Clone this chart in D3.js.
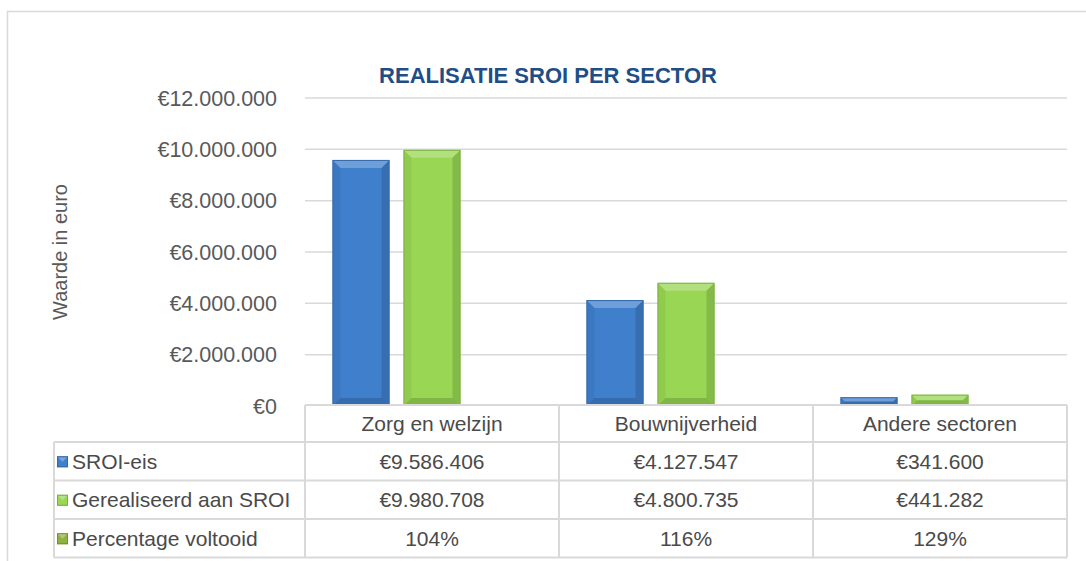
<!DOCTYPE html>
<html>
<head>
<meta charset="utf-8">
<script src="https://cdn.jsdelivr.net/npm/d3@7"></script>
<style>
  body { margin: 0; background: #fff; }
  text { font-family: "Liberation Sans", Arial, sans-serif; }
</style>
</head>
<body>
<svg id="chart" width="1086" height="561"></svg>
<script>
// data
var categories = ["Zorg en welzijn", "Bouwnijverheid", "Andere sectoren"];
var seriesNames = ["SROI-eis", "Gerealiseerd aan SROI", "Percentage voltooid"];
var sroiEis = [9586406, 4127547, 341600];
var gerealiseerd = [9980708, 4800735, 441282];
var percentage = [1.04, 1.16, 1.29];
var yTicks = [0, 2000000, 4000000, 6000000, 8000000, 10000000, 12000000];

var nl = d3.formatLocale({ decimal: ",", thousands: ".", grouping: [3], currency: ["€", ""] });
var euro = nl.format("$,.0f");
var pct = d3.format(".0%");

var colors = ["#3f7fcc", "#98d653", "#8fb13f"];

var svg = d3.select("#chart");

// outer chart border
svg.append("rect")
  .attr("x", 7.5).attr("y", 11.5).attr("width", 1100).attr("height", 600)
  .attr("fill", "none").attr("stroke", "#d9d9d9").attr("stroke-width", 1.5);

var plot = { left: 305, right: 1067, top: 98, bottom: 406 };

var x0 = d3.scaleBand().domain(categories).range([plot.left, plot.right]).paddingInner(0).paddingOuter(0);
var y = d3.scaleLinear().domain([0, 12000000]).range([plot.bottom, plot.top]);

// gridlines
svg.append("g").selectAll("line").data(yTicks.slice(1)).join("line")
  .attr("x1", plot.left).attr("x2", plot.right)
  .attr("y1", function(d) { return y(d); }).attr("y2", function(d) { return y(d); })
  .attr("stroke", "#d9d9d9").attr("stroke-width", 1.5);

// y tick labels
svg.append("g").selectAll("text").data(yTicks).join("text")
  .attr("x", 277).attr("y", function(d) { return y(d); })
  .attr("dy", "0.35em")
  .attr("text-anchor", "end")
  .attr("font-size", 21.5)
  .attr("fill", "#595959")
  .text(function(d) { return euro(d); });

// y axis title
svg.append("text")
  .attr("transform", "translate(67,252) rotate(-90)")
  .attr("text-anchor", "middle")
  .attr("font-size", 20)
  .attr("fill", "#595959")
  .text("Waarde in euro");

// title
svg.append("text")
  .attr("x", 548).attr("y", 83)
  .attr("text-anchor", "middle")
  .attr("font-size", 22)
  .attr("font-weight", "bold")
  .attr("fill", "#1f4e86")
  .text("REALISATIE SROI PER SECTOR");

// bars, 3 slots per group (percentage bars are ~0 on this axis)
var barW = 57, gap = 14;
var groupW = 3 * barW + 2 * gap;
var allSeries = [sroiEis, gerealiseerd, percentage];

function bevelBar(g, x, yTop, w, h, color) {
  if (h < 0.5) return;
  var b = Math.min(8, h / 2, w / 2);
  var x1 = x + w, y1 = yTop + h;
  g.append("rect").attr("x", x).attr("y", yTop).attr("width", w).attr("height", h).attr("fill", color);
  // top
  g.append("path").attr("d", d3.line()([[x, yTop], [x1, yTop], [x1 - b, yTop + b], [x + b, yTop + b]]))
    .attr("fill", "#fff").attr("opacity", 0.25);
  // left
  g.append("path").attr("d", d3.line()([[x, yTop], [x + b, yTop + b], [x + b, y1 - b], [x, y1]]))
    .attr("fill", "#000").attr("opacity", 0.05);
  // right
  g.append("path").attr("d", d3.line()([[x1, yTop], [x1, y1], [x1 - b, y1 - b], [x1 - b, yTop + b]]))
    .attr("fill", "#000").attr("opacity", 0.13);
  // bottom
  g.append("path").attr("d", d3.line()([[x, y1], [x1, y1], [x1 - b, y1 - b], [x + b, y1 - b]]))
    .attr("fill", "#000").attr("opacity", 0.15);
  g.append("rect").attr("x", x + 0.5).attr("y", yTop + 0.5).attr("width", w - 1).attr("height", h - 1)
    .attr("fill", "none").attr("stroke", d3.color(color).darker(0.5)).attr("stroke-width", 1);
}

var barsG = svg.append("g");
categories.forEach(function(cat, i) {
  var gx = x0(cat) + (x0.bandwidth() - groupW) / 2;
  [0, 1].forEach(function(s) {
    var v = allSeries[s][i];
    var bx = gx + s * (barW + gap);
    bevelBar(barsG, bx, y(v), barW, y(0) - y(v), colors[s]);
  });
});

// data table
var rowTop = 405, headH = 37, rowH = 38.5;
var legendLeft = 54;
var lineColor = "#d9d9d9";
var tbl = svg.append("g");

// header row
tbl.append("line").attr("x1", plot.left).attr("x2", plot.right).attr("y1", rowTop).attr("y2", rowTop)
  .attr("stroke", lineColor).attr("stroke-width", 2);
categories.forEach(function(cat) {
  tbl.append("text")
    .attr("x", x0(cat) + x0.bandwidth() / 2).attr("y", rowTop + headH / 2)
    .attr("dy", "0.35em").attr("text-anchor", "middle")
    .attr("font-size", 21).attr("fill", "#4a4a4a")
    .text(cat);
});

var tableBottom = rowTop + headH + 3 * rowH;
// horizontal lines
d3.range(4).forEach(function(r) {
  var yy = rowTop + headH + r * rowH;
  tbl.append("line").attr("x1", legendLeft).attr("x2", plot.right).attr("y1", yy).attr("y2", yy)
    .attr("stroke", lineColor).attr("stroke-width", 2);
});
// vertical lines
[legendLeft].concat(categories.map(function(c) { return x0(c); })).concat([plot.right]).forEach(function(xx) {
  tbl.append("line").attr("x1", xx).attr("x2", xx).attr("y1", xx === legendLeft ? rowTop + headH : rowTop).attr("y2", tableBottom)
    .attr("stroke", lineColor).attr("stroke-width", 2);
});

var rowFormats = [euro, euro, pct];
seriesNames.forEach(function(name, s) {
  var cy = rowTop + headH + s * rowH + rowH / 2;
  // legend key with small bevel
  var k = tbl.append("g");
  k.append("rect").attr("x", 57).attr("y", cy - 5).attr("width", 11).attr("height", 11).attr("fill", colors[s]);
  k.append("path").attr("d", d3.line()([[57, cy - 5], [68, cy - 5], [62.5, cy + 0.5]])).attr("fill", "#fff").attr("opacity", 0.3);
  k.append("rect").attr("x", 57.5).attr("y", cy - 4.5).attr("width", 10).attr("height", 10)
    .attr("fill", "none").attr("stroke", d3.color(colors[s]).darker(0.6));
  tbl.append("text")
    .attr("x", 72).attr("y", cy).attr("dy", "0.35em")
    .attr("font-size", 21).attr("fill", "#4a4a4a")
    .text(name);
  categories.forEach(function(cat, i) {
    tbl.append("text")
      .attr("x", x0(cat) + x0.bandwidth() / 2).attr("y", cy).attr("dy", "0.35em")
      .attr("text-anchor", "middle")
      .attr("font-size", 21).attr("fill", "#4a4a4a")
      .text(rowFormats[s](allSeries[s][i]));
  });
});
</script>
</body>
</html>
